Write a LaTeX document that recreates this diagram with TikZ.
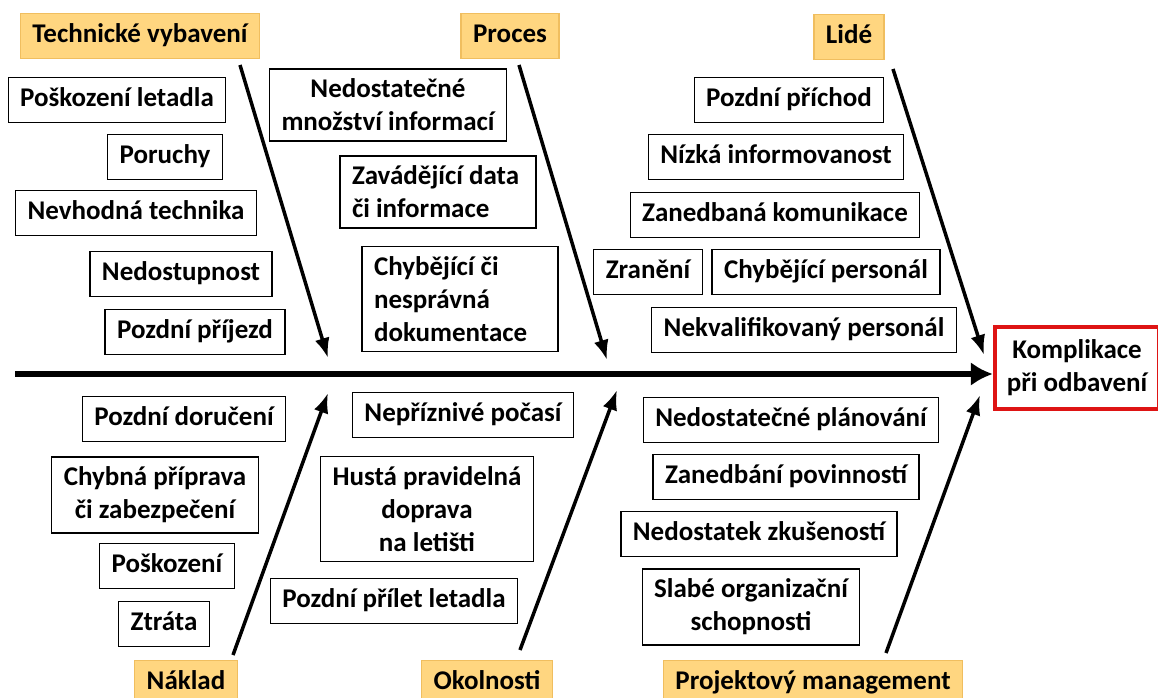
\documentclass[tikz,border=0pt]{standalone}
\usepackage{fontspec}
\setmainfont{Carlito}
\usetikzlibrary{arrows.meta}

\definecolor{catfill}{RGB}{255,214,128}
\definecolor{catline}{RGB}{240,190,95}
\definecolor{effred}{RGB}{222,20,20}

\tikzset{
	txt/.style={font=\bfseries\fontsize{27}{33}\selectfont, inner xsep=12pt, inner ysep=10pt},
	oneline/.style={txt, text height=19pt, text depth=6pt},
	cause/.style={oneline, draw=black, line width=1.3pt, fill=white},
	multi/.style={txt, draw=black, line width=1.3pt, fill=white},
	category/.style={oneline, draw=catline, line width=1.3pt, fill=catfill},
	effect/.style={txt, draw=effred, line width=4pt, align=center, minimum width=160pt, minimum height=82pt},
	bone/.style={line width=3.5pt, arrows={-Latex[length=20pt,width=15pt]}},
	spine/.style={line width=6pt, arrows={-Latex[length=22pt,width=24pt]}}
}

\begin{document}
\begin{tikzpicture}[x=1pt, y=-1pt]
	\useasboundingbox (0,0) rectangle (1158,698);
	\clip (0,0) rectangle (1158,698);
	\fill [white] (0,0) rectangle (1158,698);

	% categories
	\node [category] (tech) at (140,36) {Technické vybavení};
	\node [category] (proc) at (510,36) {Proces};
	\node [category] (lide) at (849,37) {Lidé};
	\node [category] (naklad) at (186,683) {Náklad};
	\node [category] (okol) at (487,683) {Okolnosti};
	\node [category] (pm) at (813,683) {Projektový management};

	% effect
	\node [effect] (eff) at (1077,368) {Komplikace\\při odbavení};

	% Technicke vybaveni
	\node [cause] (t1) at (117,100) {Poškození letadla};
	\node [cause] (t2) at (165,157) {Poruchy};
	\node [cause] (t3) at (136,213) {Nevhodná technika};
	\node [cause] (t4) at (181,274) {Nedostupnost};
	\node [cause] (t5) at (195,332) {Pozdní příjezd};

	% Proces
	\node [multi, align=center] (p1) at (388,105) {Nedostatečné\\množství informací};
	\node [multi, align=flush left, text width=172pt] (p2) at (438,192) {Zavádějící data\\či informace};
	\node [multi, align=flush left, text width=172pt] (p3) at (460,299) {Chybějící či\\nesprávná\\dokumentace};

	% Lide
	\node [cause] (l1) at (789,100) {Pozdní příchod};
	\node [cause] (l2) at (776,157) {Nízká informovanost};
	\node [cause] (l3) at (775,215) {Zanedbaná komunikace};
	\node [cause] (l4) at (648,272) {Zranění};
	\node [cause] (l5) at (826,272) {Chybějící personál};
	\node [cause] (l6) at (804,330) {Nekvalifikovaný personál};

	% Naklad
	\node [cause] (n1) at (184,419) {Pozdní doručení};
	\node [multi, align=center] (n2) at (155,495) {Chybná příprava\\či zabezpečení};
	\node [cause] (n3) at (167,566) {Poškození};
	\node [cause] (n4) at (164,624) {Ztráta};

	% Okolnosti
	\node [cause] (o1) at (463,415) {Nepříznivé počasí};
	\node [multi, align=center] (o2) at (427,509) {Hustá pravidelná\\doprava\\na letišti};
	\node [cause] (o3) at (394,601) {Pozdní přílet letadla};

	% Projektovy management
	\node [cause] (m1) at (791,420) {Nedostatečné plánování};
	\node [cause] (m2) at (786,477) {Zanedbání povinností};
	\node [cause] (m3) at (759,534) {Nedostatek zkušeností};
	\node [multi, align=center] (m4) at (751,607) {Slabé organizační\\schopnosti};

	% bone ends
	\coordinate (ta) at (240,65);  \coordinate (tb) at (328,358);
	\coordinate (pa) at (519,65);  \coordinate (pb) at (607,360);
	\coordinate (la) at (893,69);  \coordinate (lb) at (984,355);
	\coordinate (na) at (233,655); \coordinate (nb) at (328,393);
	\coordinate (oa) at (520,650); \coordinate (ob) at (617,390);
	\coordinate (ma) at (886,653); \coordinate (mb) at (980,395);
	\coordinate (sa) at (15,374);

	\draw [spine] (sa) -- (sa -| eff.west);
	\draw [bone] (ta) -- (tb);
	\draw [bone] (pa) -- (pb);
	\draw [bone] (la) -- (lb);
	\draw [bone] (na) -- (nb);
	\draw [bone] (oa) -- (ob);
	\draw [bone] (ma) -- (mb);
\end{tikzpicture}
\end{document}
